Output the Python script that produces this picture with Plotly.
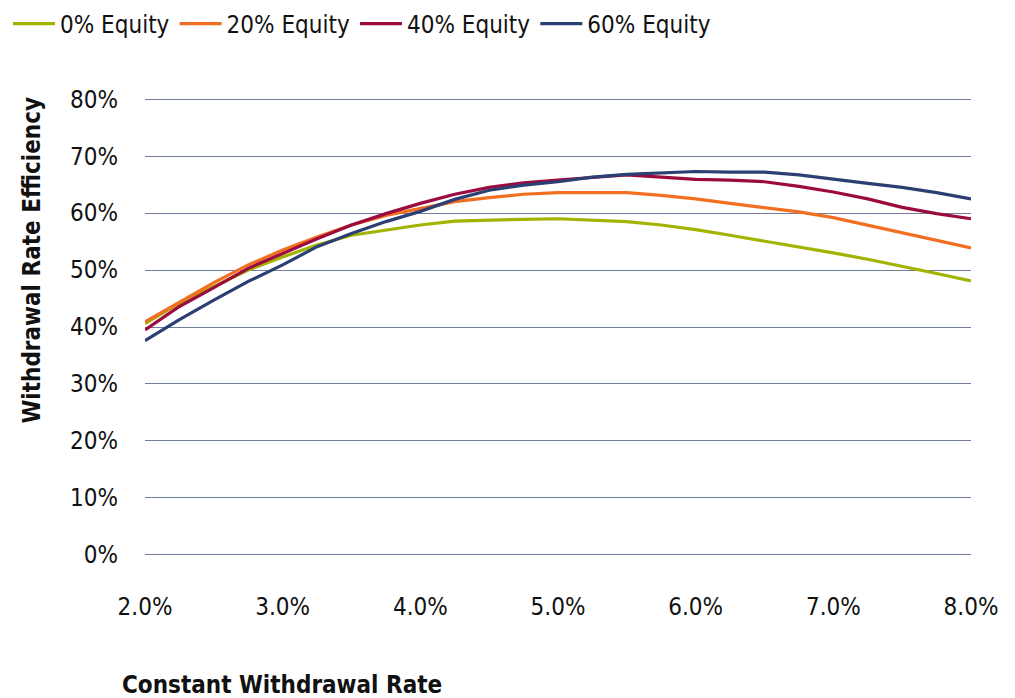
import plotly.graph_objects as go

rates = [2.0, 2.25, 2.5, 2.75, 3.0, 3.25, 3.5, 3.75, 4.0, 4.25, 4.5, 4.75, 5.0,
         5.25, 5.5, 5.75, 6.0, 6.25, 6.5, 6.75, 7.0, 7.25, 7.5, 7.75, 8.0]

eq0 = [40.6, 44.2, 47.1, 50.0, 52.3, 54.4, 56.1, 57.0, 57.9, 58.6, 58.8, 58.9, 59.0,
       58.8, 58.5, 57.9, 57.1, 56.1, 55.1, 54.1, 53.0, 51.9, 50.7, 49.4, 48.1]
eq20 = [40.9, 44.4, 47.8, 50.9, 53.5, 55.8, 57.9, 59.6, 60.8, 62.0, 62.7, 63.3, 63.6,
        63.6, 63.6, 63.1, 62.5, 61.7, 61.0, 60.2, 59.2, 57.9, 56.5, 55.3, 53.9]
eq40 = [39.5, 43.6, 46.9, 50.3, 52.9, 55.5, 57.9, 59.9, 61.7, 63.3, 64.5, 65.3, 65.8,
        66.3, 66.7, 66.3, 65.9, 65.8, 65.5, 64.7, 63.7, 62.5, 61.0, 59.9, 59.0]
eq60 = [37.6, 41.3, 44.7, 48.0, 50.9, 54.1, 56.4, 58.5, 60.3, 62.4, 64.0, 64.9, 65.5,
        66.3, 66.8, 67.1, 67.3, 67.2, 67.2, 66.7, 65.9, 65.2, 64.5, 63.6, 62.5]

series_names = ["0% Equity", "20% Equity", "40% Equity", "60% Equity"]
series_values = [eq0, eq20, eq40, eq60]
colors = ["#a2b300", "#f26f21", "#9b0b3f", "#2b3f73"]

x_ticks = [2.0, 3.0, 4.0, 5.0, 6.0, 7.0, 8.0]
x_tick_labels = ["2.0%", "3.0%", "4.0%", "5.0%", "6.0%", "7.0%", "8.0%"]
y_ticks = [0, 10, 20, 30, 40, 50, 60, 70, 80]
y_tick_labels = ["0%", "10%", "20%", "30%", "40%", "50%", "60%", "70%", "80%"]

FONT = "Liberation Sans Narrow, DejaVu Sans Condensed, Arial Narrow, sans-serif"

fig = go.Figure()
for name, vals, col in zip(series_names, series_values, colors):
    fig.add_trace(go.Scatter(x=rates, y=vals, name=name, mode="lines",
                             line=dict(color=col, width=3.2)))

# plot area: 826 px wide, 0..80 spans 456 px (5.7 px per unit)
fig.update_layout(
    width=1015, height=698,
    margin=dict(l=137, r=52, t=90, b=150),
    paper_bgcolor="white", plot_bgcolor="white",
    font=dict(family=FONT, size=24, color="#111111"),
    legend=dict(orientation="h", x=-0.004, xref="container", xanchor="left",
                y=0.977, yref="container", yanchor="middle",
                font=dict(size=24), itemwidth=42,
                tracegroupgap=0, bgcolor="rgba(0,0,0,0)"),
    showlegend=True,
)
fig.update_xaxes(range=[2, 8], tickvals=x_ticks, ticktext=x_tick_labels,
                 showgrid=False, zeroline=False, showline=False, ticks="",
                 ticklabelstandoff=34, tickfont=dict(size=24))
fig.update_yaxes(range=[-0.2, 80.2], tickvals=y_ticks, ticktext=y_tick_labels,
                 showgrid=True, gridcolor="#717d9c", gridwidth=1,
                 zeroline=False, showline=False, ticks="",
                 ticklabelstandoff=26, tickfont=dict(size=24))

fig.add_annotation(text="<b>Withdrawal Rate Efficiency</b>", xref="paper", yref="paper",
                   x=-0.137, y=0.647, xanchor="center", yanchor="middle", textangle=-90,
                   showarrow=False, font=dict(size=24, family=FONT, color="#111111"))
fig.add_annotation(text="<b>Constant Withdrawal Rate</b>", xref="paper", yref="paper",
                   x=-0.030, y=-0.281, xanchor="left", yanchor="middle",
                   showarrow=False, font=dict(size=24, family=FONT, color="#111111"))

fig.write_html("out.html")
